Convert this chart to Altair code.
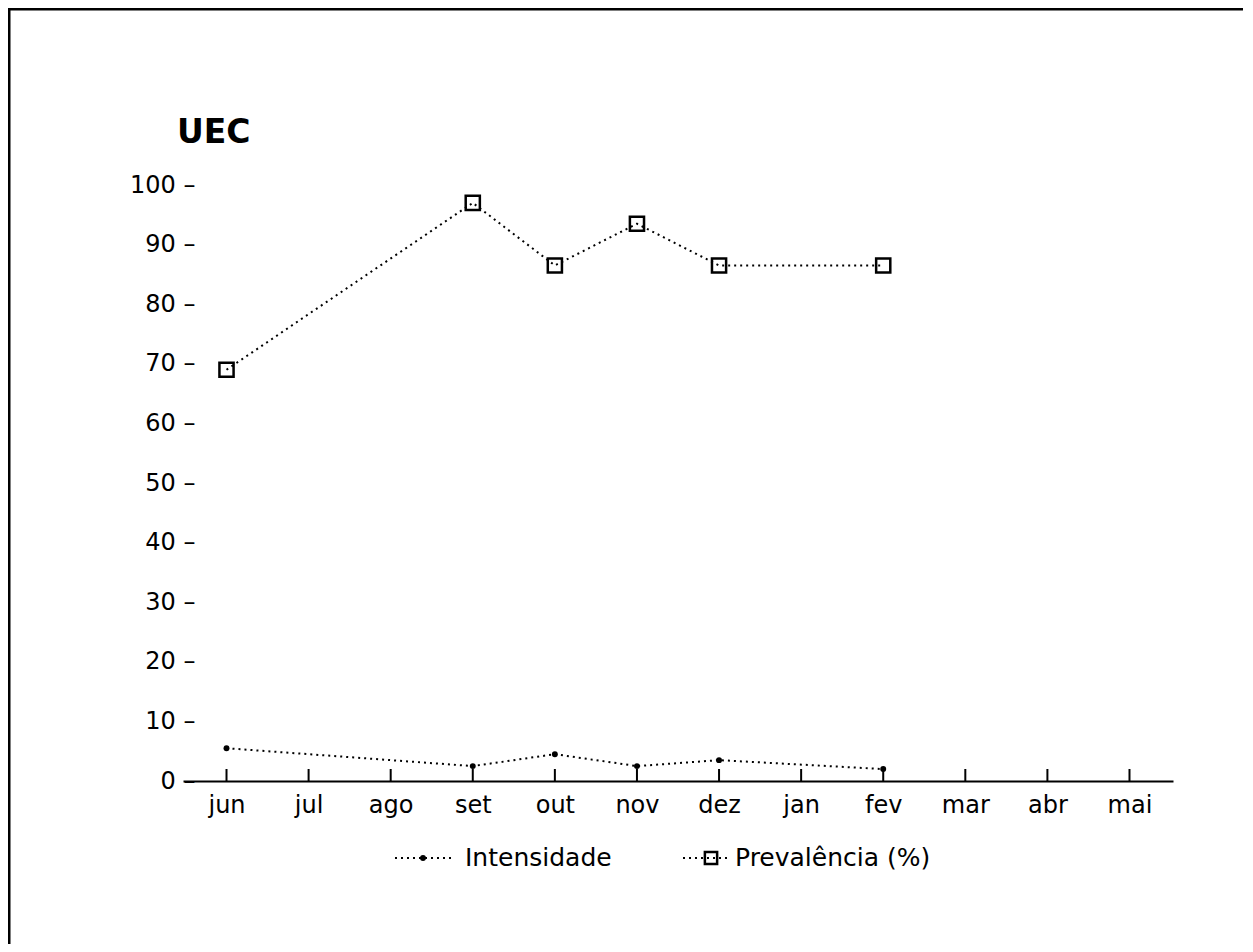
import altair as alt
import pandas as pd

# ---- data ----
months = ["jun", "jul", "ago", "set", "out", "nov", "dez", "jan", "fev", "mar", "abr", "mai"]
obs_months = ["jun", "set", "out", "nov", "dez", "fev"]
prevalencia = [69, 97, 86.5, 93.5, 86.5, 86.5]
intensidade = [5.5, 2.5, 4.5, 2.5, 3.5, 2.0]
y_ticks = [0, 10, 20, 30, 40, 50, 60, 70, 80, 90, 100]
legend_labels = ["Intensidade", "Prevalência (%)"]
chart_title = "UEC"

FONT = "DejaVu Sans"
W, H = 990, 596

df_prev = pd.DataFrame({"mes": obs_months, "valor": prevalencia})
df_int = pd.DataFrame({"mes": obs_months, "valor": intensidade})
df_months = pd.DataFrame({"mes": months})

x_enc = alt.X(
    "mes:O",
    sort=months,
    scale=alt.Scale(type="point", domain=months, padding=0.53),
    axis=alt.Axis(
        title=None, ticks=False, domain=True, domainColor="black", domainWidth=2,
        labelFont=FONT, labelFontSize=24, labelColor="black", labelPadding=12,
        labelAngle=0,
    ),
)
y_enc = alt.Y(
    "valor:Q",
    scale=alt.Scale(domain=[0, 100], nice=False),
    axis=alt.Axis(
        title=None, values=y_ticks, ticks=False, domain=False, grid=False,
        labelFont=FONT, labelFontSize=24, labelColor="black",
        labelExpr="datum.label + ' \u2013'", labelPadding=0, offset=-12,
    ),
)

dotted = [2, 4]

prev_line = alt.Chart(df_prev).mark_line(
    color="black", strokeWidth=2, strokeDash=dotted
).encode(x=x_enc, y=y_enc)
prev_pts = alt.Chart(df_prev).mark_point(
    shape="square", size=200, filled=False, color="black", strokeWidth=2.5, opacity=1
).encode(x=alt.X("mes:O", sort=months), y="valor:Q")

int_line = alt.Chart(df_int).mark_line(
    color="black", strokeWidth=2, strokeDash=dotted
).encode(x=alt.X("mes:O", sort=months), y="valor:Q")
int_pts = alt.Chart(df_int).mark_point(
    shape="circle", size=35, filled=True, color="black", opacity=1
).encode(x=alt.X("mes:O", sort=months), y="valor:Q")

# inward x ticks
x_ticks = alt.Chart(df_months).mark_rule(color="black", strokeWidth=2).encode(
    x=alt.X("mes:O", sort=months), y=alt.value(H - 12), y2=alt.value(H)
)

one = alt.Data(values=[{"k": 1}])

# page frame of the scanned sheet
frame = alt.Chart(one).mark_rect(
    fillOpacity=0, stroke="black", strokeWidth=3
).encode(x=alt.value(-174), x2=alt.value(W + 200), y=alt.value(-176), y2=alt.value(H + 300))

title = alt.Chart(one).mark_text(
    text=chart_title, font=FONT, fontSize=33, fontWeight="bold", color="black",
    align="left", baseline="alphabetic"
).encode(x=alt.value(-6), y=alt.value(-42))

# legend
LY = 673
leg1_line = alt.Chart(one).mark_rule(color="black", strokeWidth=2, strokeDash=dotted).encode(
    x=alt.value(212), x2=alt.value(272), y=alt.value(LY)
)
leg1_pt = alt.Chart(one).mark_point(shape="circle", size=35, filled=True, color="black", opacity=1).encode(
    x=alt.value(240), y=alt.value(LY)
)
leg1_txt = alt.Chart(one).mark_text(
    text=legend_labels[0], font=FONT, fontSize=25, color="black", align="left", baseline="middle"
).encode(x=alt.value(282), y=alt.value(LY))

leg2_line = alt.Chart(one).mark_rule(color="black", strokeWidth=2, strokeDash=dotted).encode(
    x=alt.value(500), x2=alt.value(545), y=alt.value(LY)
)
leg2_pt = alt.Chart(one).mark_point(
    shape="square", size=150, filled=False, color="black", strokeWidth=2.5, opacity=1
).encode(x=alt.value(528), y=alt.value(LY))
leg2_txt = alt.Chart(one).mark_text(
    text=legend_labels[1], font=FONT, fontSize=25, color="black", align="left", baseline="middle"
).encode(x=alt.value(552), y=alt.value(LY))

chart = alt.layer(
    frame, title, prev_line, int_line, x_ticks, prev_pts, int_pts,
    leg1_line, leg1_pt, leg1_txt, leg2_line, leg2_pt, leg2_txt,
).properties(
    width=W, height=H,
    autosize=alt.AutoSizeParams(type="none"),
    padding={"left": 175, "top": 177, "right": 70, "bottom": 163},
    background="white",
).configure_view(stroke=None)

chart.save("out.html", embed_options={"renderer": "svg", "actions": False})
